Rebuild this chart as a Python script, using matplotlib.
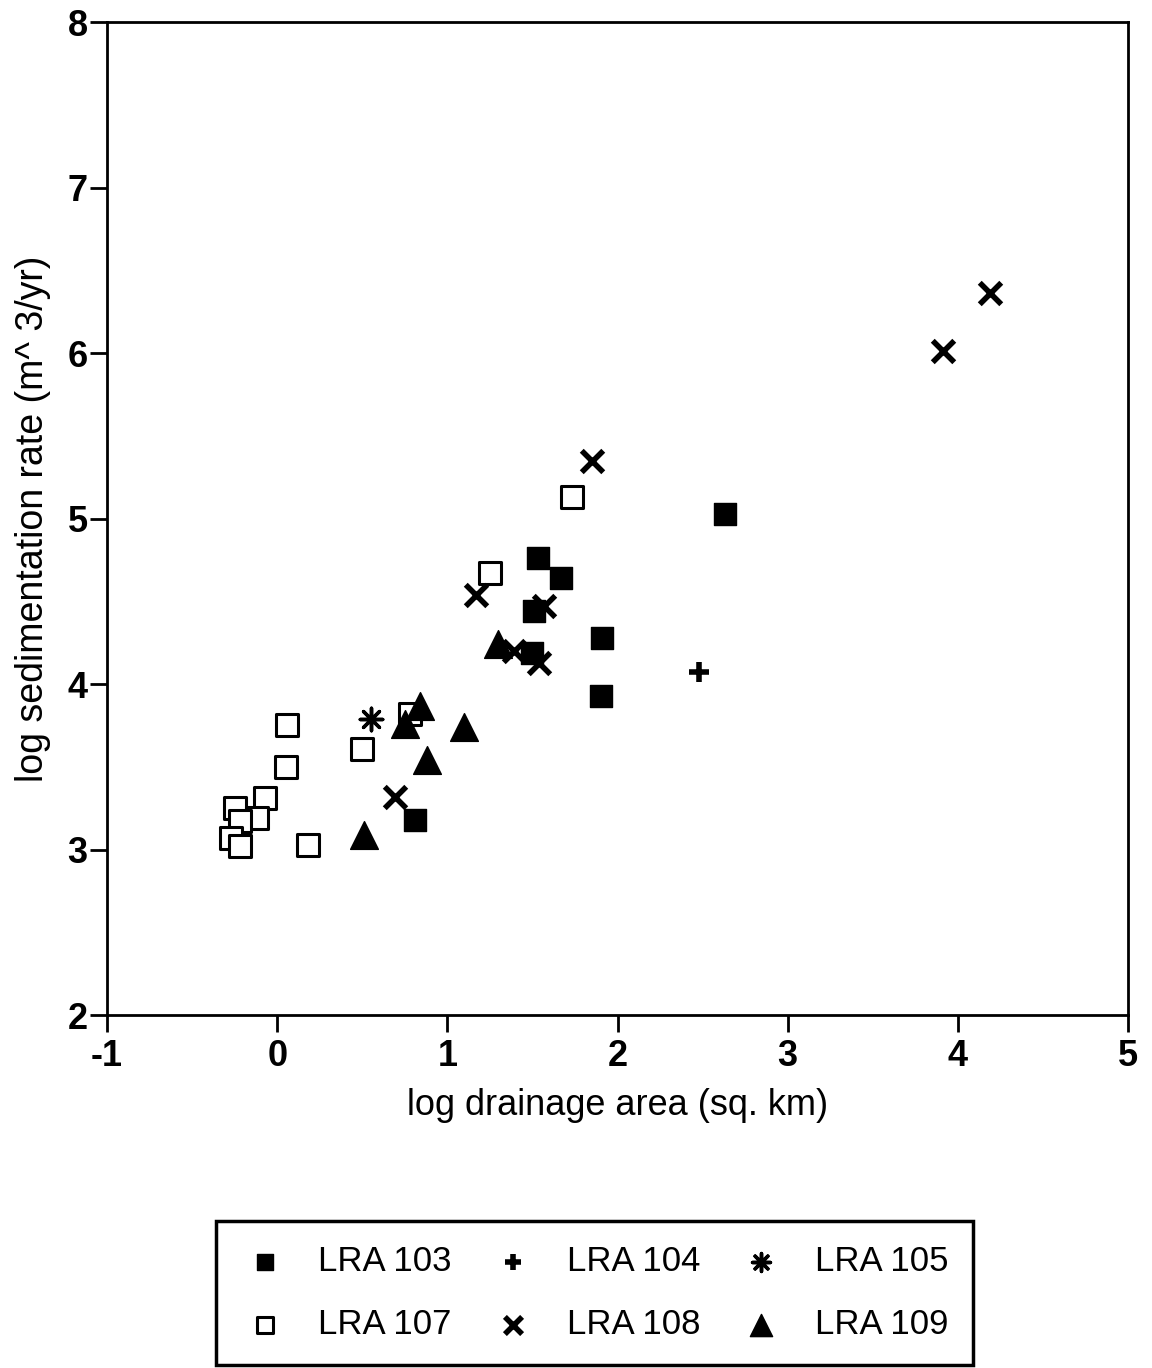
import numpy as np
import matplotlib.pyplot as plt

plt.rcParams['font.family'] = ['Liberation Sans', 'DejaVu Sans']
plt.rcParams['axes.unicode_minus'] = False

# log drainage area (x) and log sedimentation rate (y) per group
lra103_x = [2.63, 1.53, 1.67, 1.51, 1.50, 1.91, 1.90, 0.81]
lra103_y = [5.03, 4.76, 4.64, 4.44, 4.19, 4.28, 3.93, 3.18]

lra104_x = [2.48]
lra104_y = [4.07]

lra105_x = [0.55]
lra105_y = [3.79]

lra107_x = [1.73, 1.25, 0.06, 0.05, 0.50, 0.78, -0.25, -0.07, -0.12, -0.22, -0.27, -0.22, 0.18]
lra107_y = [5.13, 4.67, 3.75, 3.50, 3.61, 3.82, 3.25, 3.31, 3.19, 3.17, 3.07, 3.02, 3.03]

lra108_x = [4.19, 3.91, 1.85, 1.17, 1.57, 1.39, 1.54, 0.69]
lra108_y = [6.36, 6.01, 5.35, 4.54, 4.47, 4.20, 4.13, 3.32]

lra109_x = [1.30, 0.84, 0.75, 1.10, 0.88, 0.51]
lra109_y = [4.24, 3.87, 3.76, 3.74, 3.54, 3.09]

fig = plt.figure(figsize=(11.52, 13.68), dpi=100)
ax = fig.add_axes([0.0929, 0.258, 0.8863, 0.7259])

h103 = ax.scatter(lra103_x, lra103_y, marker='s', s=230, c='black', label='LRA 103')
h104 = ax.scatter(lra104_x, lra104_y, marker='+', s=220, c='black', linewidths=4, label='LRA 104')
h105 = ax.scatter(lra105_x, lra105_y, marker=(8, 2, 0), s=260, c='black', linewidths=2.5, label='LRA 105')
h107 = ax.scatter(lra107_x, lra107_y, marker='s', s=230, facecolors='white', edgecolors='black',
                  linewidths=2.2, label='LRA 107')
h108 = ax.scatter(lra108_x, lra108_y, marker='x', s=240, c='black', linewidths=4, label='LRA 108')
h109 = ax.scatter(lra109_x, lra109_y, marker='^', s=400, c='black', label='LRA 109')

ax.set_xlim(-1, 5)
ax.set_ylim(2, 8)
ax.set_xticks(range(-1, 6))
ax.set_yticks(range(2, 9))
ax.tick_params(direction='out', length=12, width=2, labelsize=26)
ax.tick_params(axis='x', pad=5)
ax.tick_params(axis='y', pad=2)
for lbl in ax.get_xticklabels() + ax.get_yticklabels():
    lbl.set_fontweight('bold')
for sp in ax.spines.values():
    sp.set_linewidth(2)

ax.set_xlabel('log drainage area (sq. km)', fontsize=26, labelpad=10)
ax.set_ylabel('log sedimentation rate (m^ 3/yr)', fontsize=27, labelpad=12)

handles = [h103, h107, h104, h108, h105, h109]
leg = fig.legend(handles=handles, labels=[h.get_label() for h in handles], ncol=3,
                 loc='lower left', bbox_to_anchor=(0.1875, 0.002, 0.657, 0.107), mode='expand',
                 borderaxespad=0, fontsize=25, frameon=True, fancybox=False,
                 edgecolor='black', framealpha=1, handlelength=1.4,
                 handletextpad=0.85, columnspacing=1.0, labelspacing=0.85,
                 borderpad=0.7, scatterpoints=1, markerscale=0.8)
leg.get_frame().set_linewidth(2.5)

fig.savefig('out.png', dpi=100)
